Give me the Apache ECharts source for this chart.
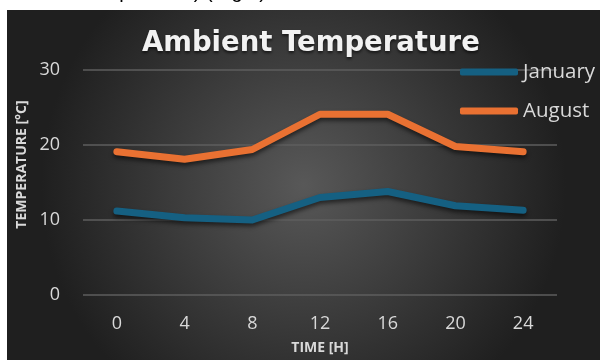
<!DOCTYPE html>
<html>
<head>
<meta charset="utf-8">
<script src="https://cdn.jsdelivr.net/npm/echarts@6/dist/echarts.min.js"></script>
<style>
html,body{margin:0;padding:0;background:#fff;}
#chart{width:600px;height:360px;}
</style>
</head>
<body>
<div id="chart"></div>
<script>
const hours = ['0', '4', '8', '12', '16', '20', '24'];
const january = [11.2, 10.3, 10.0, 13.0, 13.8, 11.9, 11.3];
const august = [19.1, 18.1, 19.4, 24.1, 24.1, 19.8, 19.1];
const yTicks = [0, 10, 20, 30];
const seriesNames = ['January', 'August'];
const titleText = 'Ambient Temperature';
const xName = 'TIME [H]';
const yName = 'TEMPERATURE [°C]';
const captionText = 'Ambient Temperature) (Right)';

const chart = echarts.init(document.getElementById('chart'));
const shadow = {shadowColor: 'rgba(0,0,0,0.55)', shadowBlur: 4, shadowOffsetY: 3};
chart.setOption({
  backgroundColor: '#ffffff',
  animation: false,
  graphic: [
    {type: 'rect', z: -10, silent: true,
     shape: {x: 7, y: 10, width: 593, height: 350},
     style: {fill: {type: 'radial', x: 0.5, y: 0.5, r: 0.75,
       colorStops: [{offset: 0, color: '#585858'}, {offset: 1, color: '#1f1f1f'}]}}},
    {type: 'text', z: -5, silent: true, x: 266, y: 2,
     style: {text: captionText, fill: '#000', font: '20px "Liberation Sans"', align: 'right', verticalAlign: 'bottom'}}
  ],
  title: {
    text: titleText, left: 137, top: 25,
    textStyle: {color: '#f2f2f2', fontSize: 27.5, fontWeight: 'bold', fontFamily: 'DejaVu Sans',
      textShadowColor: 'rgba(0,0,0,0.6)', textShadowBlur: 3, textShadowOffsetY: 2}
  },
  legend: {
    orient: 'vertical', left: 455, top: 56, itemGap: 17,
    icon: 'roundRect', itemWidth: 58, itemHeight: 7,
    data: seriesNames,
    textStyle: {color: '#d9d9d9', fontSize: 20.5, lineHeight: 22, fontFamily: 'Open Sans'}
  },
  grid: {left: 83, right: 43, top: 70, bottom: 59},
  xAxis: {
    type: 'category', data: hours, boundaryGap: true,
    axisLine: {show: false}, axisTick: {show: false},
    axisLabel: {color: '#d9d9d9', fontSize: 18, margin: 20, fontFamily: 'Open Sans'},
    name: xName, nameLocation: 'middle', nameGap: 46,
    nameTextStyle: {color: '#d9d9d9', fontSize: 14, fontWeight: 'bold', fontFamily: 'Open Sans'}
  },
  yAxis: {
    type: 'value', min: yTicks[0], max: yTicks[yTicks.length - 1], interval: 10,
    axisLine: {show: false}, axisTick: {show: false},
    splitLine: {lineStyle: {color: '#5e5e5e', width: 1.5}},
    axisLabel: {color: '#d9d9d9', fontSize: 18, margin: 23, fontFamily: 'Open Sans'},
    name: yName, nameLocation: 'middle', nameGap: 45, nameRotate: 90,
    nameTextStyle: {color: '#d9d9d9', fontSize: 14, fontWeight: 'bold', fontFamily: 'Open Sans', padding: [0, 0, 0, 36]}
  },
  series: [
    {name: seriesNames[0], type: 'line', data: january, showSymbol: false, symbol: 'none',
     color: '#156082',
     lineStyle: Object.assign({width: 7, color: '#156082', cap: 'round', join: 'round'}, shadow)},
    {name: seriesNames[1], type: 'line', data: august, showSymbol: false, symbol: 'none',
     color: '#E97132',
     lineStyle: Object.assign({width: 7, color: '#E97132', cap: 'round', join: 'round'}, shadow)}
  ]
});
</script>
</body>
</html>
